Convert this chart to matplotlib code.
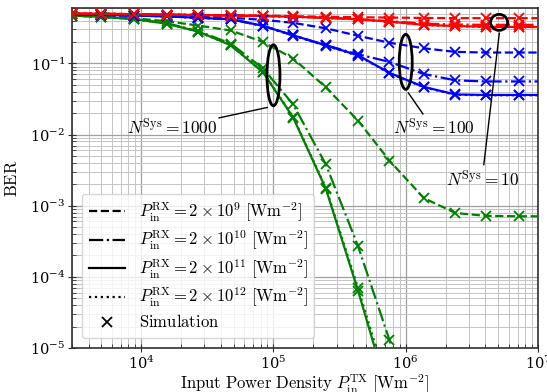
import numpy as np
import matplotlib
matplotlib.use("Agg")
import matplotlib.pyplot as plt
from matplotlib.lines import Line2D
from matplotlib.patches import Ellipse
from matplotlib.transforms import ScaledTranslation

plt.rcParams['mathtext.fontset'] = 'cm'
plt.rcParams['font.family'] = ['DejaVu Serif']

# Input power density (marker / sample positions)
p_tx = [3.0e3, 5.0e3, 8.9e3, 1.57e4, 2.70e4, 4.75e4, 8.34e4, 1.41e5,
        2.49e5, 4.36e5, 7.53e5, 1.37e6, 2.37e6, 4.01e6, 7.16e6, 1.0e7]

# N_sys = 1000 (green)
g_dash = [0.47, 0.45, 0.43, 0.39, 0.34, 0.29, 0.20, 0.117, 0.046, 0.0157,
          0.0043, 0.00128, 0.00079, 0.00072, 0.00071, 0.00071]
g_dashdot = [0.47, 0.45, 0.42, 0.365, 0.285, 0.19, 0.085, 0.0265, 0.0038,
             2.7e-4, 1.3e-5, 3e-7, 1e-9, 1e-10, 1e-11, 1e-12]
g_solid = [0.47, 0.45, 0.42, 0.36, 0.28, 0.18, 0.075, 0.0173, 0.00173,
           6.4e-5, 2e-6, 1e-8, 1e-10, 1e-11, 1e-12, 1e-13]
g_dot = [0.47, 0.45, 0.42, 0.36, 0.28, 0.18, 0.076, 0.0176, 0.0018,
         7e-5, 2.5e-6, 1.2e-8, 1e-10, 1e-11, 1e-12, 1e-13]

# N_sys = 100 (blue)
b_dash = [0.49, 0.48, 0.47, 0.46, 0.45, 0.437, 0.41, 0.371, 0.311, 0.244,
          0.195, 0.163, 0.145, 0.142, 0.142, 0.142]
b_dashdot = [0.49, 0.48, 0.47, 0.458, 0.437, 0.417, 0.337, 0.248, 0.18,
             0.134, 0.105, 0.071, 0.0577, 0.0557, 0.0557, 0.0557]
b_solid = [0.49, 0.48, 0.47, 0.458, 0.437, 0.417, 0.337, 0.248, 0.179,
           0.130, 0.0735, 0.0467, 0.0366, 0.0360, 0.0360, 0.0360]
b_dot = [0.49, 0.48, 0.47, 0.458, 0.437, 0.417, 0.336, 0.246, 0.177,
         0.128, 0.0725, 0.0462, 0.0362, 0.0356, 0.0356, 0.0356]

# N_sys = 10 (red)
r_dash = [0.50, 0.50, 0.49, 0.485, 0.48, 0.475, 0.47, 0.46, 0.452, 0.445,
          0.44, 0.435, 0.432, 0.432, 0.432, 0.432]
r_dashdot = [0.50, 0.50, 0.49, 0.485, 0.478, 0.47, 0.463, 0.452, 0.437,
             0.417, 0.392, 0.362, 0.352, 0.348, 0.348, 0.348]
r_solid = [0.50, 0.50, 0.49, 0.485, 0.478, 0.47, 0.463, 0.452, 0.437,
           0.417, 0.386, 0.348, 0.335, 0.327, 0.325, 0.325]
r_dot = [0.50, 0.50, 0.49, 0.485, 0.478, 0.47, 0.463, 0.452, 0.437,
         0.416, 0.385, 0.346, 0.333, 0.325, 0.323, 0.323]

styles = ['--', '-.', '-', ':']
legend_labels = [r'$P_{\mathrm{in}}^{\mathrm{RX}} = 2 \times 10^{9}\ [\mathrm{Wm}^{-2}]$',
                 r'$P_{\mathrm{in}}^{\mathrm{RX}} = 2 \times 10^{10}\ [\mathrm{Wm}^{-2}]$',
                 r'$P_{\mathrm{in}}^{\mathrm{RX}} = 2 \times 10^{11}\ [\mathrm{Wm}^{-2}]$',
                 r'$P_{\mathrm{in}}^{\mathrm{RX}} = 2 \times 10^{12}\ [\mathrm{Wm}^{-2}]$']

fig = plt.figure(figsize=(5.47, 3.92), dpi=100)
ax = fig.add_axes([72/547, 1-348/392, (538-72)/547, (348-8)/392])

x = np.array(p_tx)
groups = [('#008000', [g_dash, g_dashdot, g_solid, g_dot]),
          ('#0000ff', [b_dash, b_dashdot, b_solid, b_dot]),
          ('#ff0000', [r_dash, r_dashdot, r_solid, r_dot])]
for color, series in groups:
    for ls, ys in zip(styles, series):
        ys = np.array(ys)
        ax.plot(x, ys, ls=ls, color=color, lw=1.6, zorder=3)
        ax.plot(x[:-1], ys[:-1], ls='none', marker='x', color=color,
                ms=7, mew=1.3, zorder=4)

ax.set_xscale('log')
ax.set_yscale('log')
ax.set_xlim(3e3, 1e7)
ax.set_ylim(1e-5, 0.6)

ax.grid(True, which='major', color='#a0a0a0', lw=0.9)
ax.grid(True, which='minor', color='#c4c4c4', lw=0.7)
ax.set_axisbelow(True)
for s in ax.spines.values():
    s.set_color('#303030')
    s.set_linewidth(1.2)
ax.tick_params(which='major', direction='inout', length=6, labelsize=10.5,
               color='#303030', pad=2)
ax.tick_params(which='minor', direction='in', length=3, color='#303030')

ax.set_xlabel(r'$\mathrm{Input\ Power\ Density}\ P_{\mathrm{in}}^{\mathrm{TX}}\ [\mathrm{Wm}^{-2}]$',
              fontsize=12, labelpad=0.5)
ax.set_ylabel(r'$\mathrm{BER}$', fontsize=12, labelpad=6)

handles = [Line2D([], [], color='k', ls=ls, lw=1.6) for ls in styles]
handles.append(Line2D([], [], color='k', ls='none', marker='x', ms=7, mew=1.3))
labels = legend_labels + [r'$\mathrm{Simulation}$']
ax.legend(handles, labels, loc='lower left', fontsize=12, framealpha=0.8,
          labelspacing=0.3, borderaxespad=0.6, handlelength=2.2)

# ellipses (size in inches around a data point)
def ell(xc, yc, w, h):
    tr = fig.dpi_scale_trans + ScaledTranslation(xc, yc, ax.transData)
    ax.add_patch(Ellipse((0, 0), w, h, transform=tr, fill=False,
                         ec='k', lw=2, zorder=6))

ell(1.0e5, 0.068, 0.13, 0.61)
ell(1.0e6, 0.105, 0.13, 0.55)
ell(5.08e6, 0.377, 0.17, 0.16)

ax.annotate('', xy=(9.45e4, 0.0245), xytext=(3.69e4, 0.0168),
            arrowprops=dict(arrowstyle='-', color='k', lw=1.0), zorder=6)
ax.annotate('', xy=(1.016e6, 0.0417), xytext=(1.39e6, 0.018),
            arrowprops=dict(arrowstyle='-', color='k', lw=1.0), zorder=6)
ax.annotate('', xy=(5.13e6, 0.292), xytext=(3.87e6, 3.43e-3),
            arrowprops=dict(arrowstyle='-', color='k', lw=1.0), zorder=6)

ax.text(1.71e4, 0.0122, r'$N^{\mathrm{Sys}} = 1000$', fontsize=12.5, ha='center', va='center', zorder=6)
ax.text(1.62e6, 0.0122, r'$N^{\mathrm{Sys}} = 100$', fontsize=12.5, ha='center', va='center', zorder=6)
ax.text(3.8e6, 2.25e-3, r'$N^{\mathrm{Sys}} = 10$', fontsize=12.5, ha='center', va='center', zorder=6)

fig.savefig('out.png', dpi=100)
